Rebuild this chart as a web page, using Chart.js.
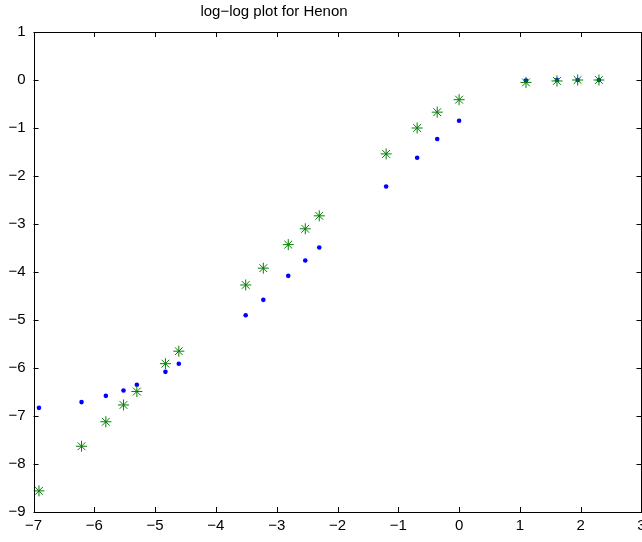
<!DOCTYPE html>
<html>
<head>
<meta charset="utf-8">
<script src="https://cdn.jsdelivr.net/npm/chart.js@4/dist/chart.umd.min.js"></script>
<style>
html,body{margin:0;padding:0;background:#fff;overflow:hidden;}
#wrap{width:642px;height:542px;position:relative;overflow:hidden;}
</style>
</head>
<body>
<div id="wrap"><canvas id="c" width="648" height="542"></canvas></div>
<script>
const titleText = "log\u2212log plot for Henon";
const xValues = [-6.91,-6.21,-5.81,-5.52,-5.30,-4.83,-4.61,-3.51,-3.22,-2.81,-2.53,-2.30,-1.20,-0.69,-0.36,0,1.10,1.61,1.95,2.30];
const blueValues = [-6.83,-6.71,-6.58,-6.47,-6.35,-6.08,-5.91,-4.90,-4.58,-4.08,-3.76,-3.49,-2.22,-1.62,-1.23,-0.85,-0.01,0,0,0];
const greenValues = [-8.56,-7.63,-7.12,-6.77,-6.49,-5.91,-5.65,-4.27,-3.92,-3.43,-3.10,-2.83,-1.54,-1.00,-0.67,-0.41,-0.05,-0.02,0,0];
const xTicks = [-7,-6,-5,-4,-3,-2,-1,0,1,2,3];
const yTicks = [-9,-8,-7,-6,-5,-4,-3,-2,-1,0,1];

const FONT = "'Liberation Sans', Arial, Helvetica, sans-serif";
const fmt = v => (v < 0 ? "\u2212" + Math.abs(v) : String(v));

const framePlugin = {
  id: 'frame',
  afterDatasetsDraw(chart) {
    const {ctx, chartArea: a, scales} = chart;
    ctx.save();
    ctx.strokeStyle = '#000';
    ctx.lineWidth = 1;
    const L = 5;
    const right = Math.min(a.right, 641.5);
    ctx.beginPath();
    xTicks.forEach(v => {
      const px = Math.min(Math.round(scales.x.getPixelForValue(v)) + 0.5, 641.5);
      ctx.moveTo(px, a.bottom); ctx.lineTo(px, a.bottom - L);
      ctx.moveTo(px, a.top); ctx.lineTo(px, a.top + L);
    });
    yTicks.forEach(v => {
      const py = Math.round(scales.y.getPixelForValue(v)) + 0.5;
      ctx.moveTo(a.left, py); ctx.lineTo(a.left + L, py);
      ctx.moveTo(right, py); ctx.lineTo(right - L, py);
    });
    ctx.stroke();
    ctx.strokeRect(Math.round(a.left) + 0.5, Math.round(a.top) + 0.5,
                   Math.floor(right) + 0.5 - (Math.round(a.left) + 0.5), Math.round(a.bottom - a.top));
    ctx.fillStyle = '#000';
    ctx.font = "15px " + FONT;
    ctx.textAlign = 'center';
    ctx.textBaseline = 'top';
    xTicks.forEach(v => {
      ctx.fillText(fmt(v), scales.x.getPixelForValue(v), a.bottom + 6);
    });
    ctx.textBaseline = 'middle';
    ctx.fillText(titleText, 274, 12);
    ctx.restore();
  }
};

new Chart(document.getElementById('c'), {
  type: 'scatter',
  data: {
    datasets: [
      {
        label: 'green',
        data: xValues.map((x, i) => ({x, y: greenValues[i]})),
        pointStyle: 'star',
        radius: 5.5,
        borderWidth: 1,
        borderColor: 'rgb(0,128,0)',
        backgroundColor: 'rgb(0,128,0)',
        order: 0
      },
      {
        label: 'blue',
        data: xValues.map((x, i) => ({x, y: blueValues[i]})),
        pointStyle: 'circle',
        radius: 2.3,
        borderWidth: 0,
        backgroundColor: 'rgb(0,0,255)',
        borderColor: 'rgb(0,0,255)',
        order: 1
      }
    ]
  },
  options: {
    responsive: false,
    animation: false,
    layout: {padding: {top: 32, right: 0, left: 0, bottom: 0}},
    plugins: {legend: {display: false}, title: {display: false}, tooltip: {enabled: false}},
    scales: {
      x: {
        type: 'linear', min: -7, max: 3,
        afterBuildTicks: s => { s.ticks = xTicks.map(v => ({value: v})); },
        afterFit: s => { s.height = 30; },
        grid: {display: false, drawTicks: false},
        border: {display: false},
        ticks: {display: false}
      },
      y: {
        type: 'linear', min: -9, max: 1,
        afterBuildTicks: s => { s.ticks = yTicks.map(v => ({value: v})); },
        afterFit: s => { s.width = 33.5; },
        grid: {display: false, drawTicks: false},
        border: {display: false},
        ticks: {color: '#000', font: {family: FONT, size: 15}, padding: 8, autoSkip: false, callback: v => fmt(v)}
      }
    }
  },
  plugins: [framePlugin]
});
</script>
</body>
</html>
